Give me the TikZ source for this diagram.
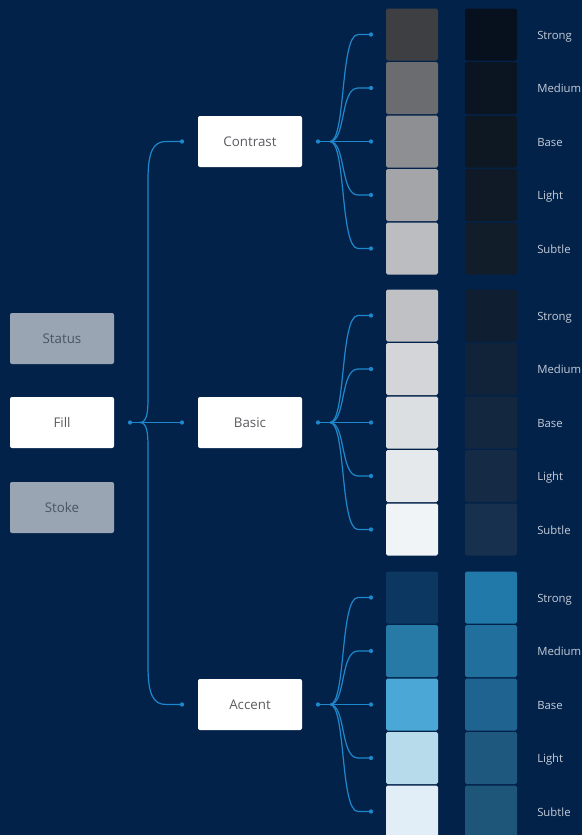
\documentclass[tikz,border=0pt]{standalone}
\usepackage{fontspec}
\setmainfont{Open Sans}
\definecolor{bg}{HTML}{03224A}
\definecolor{linec}{HTML}{1E88CC}
\definecolor{boxgrey}{HTML}{9AA5B3}
\definecolor{greytxt}{HTML}{4A5464}
\definecolor{whitetxt}{HTML}{5A5C60}
\definecolor{lbltxt}{HTML}{C5CDD8}
\definecolor{g1a1}{HTML}{3E3F42}\definecolor{g1a2}{HTML}{6B6C6F}\definecolor{g1a3}{HTML}{8E8F92}\definecolor{g1a4}{HTML}{A3A5A8}\definecolor{g1a5}{HTML}{BBBDC0}
\definecolor{g1b1}{HTML}{07111E}\definecolor{g1b2}{HTML}{0B1521}\definecolor{g1b3}{HTML}{0D1823}\definecolor{g1b4}{HTML}{0F1A26}\definecolor{g1b5}{HTML}{111D29}
\definecolor{g2a1}{HTML}{BFC1C4}\definecolor{g2a2}{HTML}{D3D5D8}\definecolor{g2a3}{HTML}{DCDFE2}\definecolor{g2a4}{HTML}{E6E9EC}\definecolor{g2a5}{HTML}{F1F4F7}
\definecolor{g2b1}{HTML}{0F1E30}\definecolor{g2b2}{HTML}{112339}\definecolor{g2b3}{HTML}{13273F}\definecolor{g2b4}{HTML}{142A45}\definecolor{g2b5}{HTML}{16304D}
\definecolor{g3a1}{HTML}{0B3761}\definecolor{g3a2}{HTML}{2779A6}\definecolor{g3a3}{HTML}{4BA8D6}\definecolor{g3a4}{HTML}{B7DBEA}\definecolor{g3a5}{HTML}{E1EEF7}
\definecolor{g3b1}{HTML}{2179A9}\definecolor{g3b2}{HTML}{216F9D}\definecolor{g3b3}{HTML}{1F6390}\definecolor{g3b4}{HTML}{1E587F}\definecolor{g3b5}{HTML}{1E5679}
\tikzset{
  box/.style={rectangle, rounded corners=1.5pt, minimum width=78pt, minimum height=38.25pt, inner sep=0pt, font=\fontsize{10}{12}\selectfont},
  whitebox/.style={box, fill=white, text=whitetxt},
  greybox/.style={box, fill=boxgrey, text=greytxt},
  sw/.style={rectangle, rounded corners=1.2pt, minimum size=39pt, inner sep=0pt},
  lbl/.style={anchor=base west, text=lbltxt, font=\fontsize{8.5}{10}\selectfont, inner sep=0pt},
  conn/.style={draw=linec, line width=0.9pt},
  dotc/.style={fill=linec}
}
\begin{document}
\begin{tikzpicture}[x=0.75pt,y=-0.75pt]
\fill[bg] (0,0) rectangle (582,835);
\useasboundingbox (0,0) rectangle (582,835);
\begin{scope}
\clip (0,0) rectangle (582,835);
% left nodes
\node[greybox] (status) at (62,338.5) {Status};
\node[whitebox] (fill) at (62,422.5) {Fill};
\node[greybox] (stoke) at (62,507.5) {Stoke};
% middle nodes
\node[whitebox] (contrast) at (250,141.5) {Contrast};
\node[whitebox] (basic) at (250,422.5) {Basic};
\node[whitebox] (accent) at (250,704.5) {Accent};
% left connector points
\coordinate (fo) at (130,422.5);
\coordinate (fj) at (140,422.5);
\coordinate (cin) at (182,141.5);
\coordinate (bin) at (182,422.5);
\coordinate (ain) at (182,704.5);
\draw[conn] (fo) -- (fj) -- (bin);
\draw[conn] (fj) .. controls (147,422.5) and (148,412) .. (148,398) -- (148,180) .. controls (148,152) and (153,141.5) .. (166,141.5) -- (cin);
\draw[conn] (fj) .. controls (147,422.5) and (148,433) .. (148,447) -- (148,666) .. controls (148,694) and (153,704.5) .. (166,704.5) -- (ain);
\foreach \c in {fo,cin,bin,ain} \fill[dotc] (\c) circle (1.6pt);
% groups
\foreach \g/\cy/\pn in {1/141.5/contrast, 2/422.5/basic, 3/704.5/accent}{
  \coordinate (o\g) at (318,\cy);
  \coordinate (j\g) at (330,\cy);
  \draw[conn] (o\g) -- (j\g);
  \fill[dotc] (o\g) circle (1.6pt);
  \foreach \r/\lab in {1/Strong,2/Medium,3/Base,4/Light,5/Subtle}{
    \pgfmathsetmacro\yy{\cy+(\r-3)*53.5}
    \pgfmathsetmacro\yl{\yy+4.5}
    \node[sw, fill=g\g a\r] (s\g\r a) at (412,\yy) {};
    \node[sw, fill=g\g b\r] (s\g\r b) at (491,\yy) {};
    \node[lbl] (l\g\r) at (537,\yl) {\lab};
    \coordinate (d\g\r) at (371,\yy);
    \draw[conn] (j\g) .. controls (346,\cy) and (340,\yy) .. (358,\yy) -- (d\g\r);
    \fill[dotc] (d\g\r) circle (1.6pt);
  }
}
\end{scope}
\end{tikzpicture}
\end{document}
